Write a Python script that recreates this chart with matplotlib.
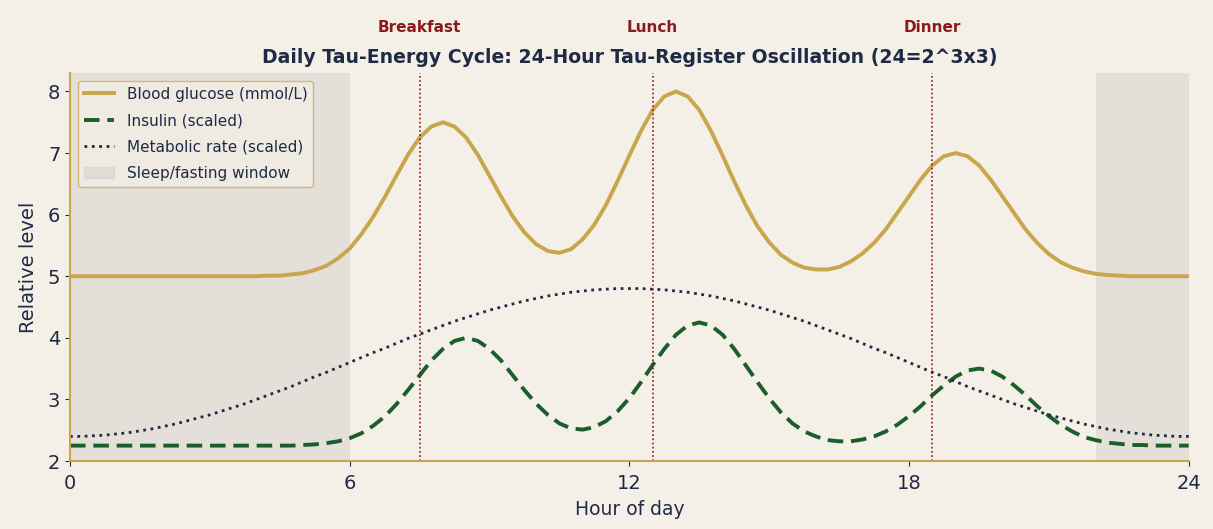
import numpy as np
import matplotlib.pyplot as plt
from matplotlib.patches import Patch
from matplotlib.lines import Line2D

# hours sampled every quarter hour, 0..24
hours = np.arange(0, 24.001, 0.25)

glucose = [5.00] * 17 + [
    5.01, 5.01, 5.03, 5.05, 5.10, 5.17, 5.29, 5.45, 5.68, 5.96,
    6.28, 6.63, 6.97, 7.25, 7.43, 7.50, 7.43, 7.25, 6.97, 6.63,
    6.29, 5.97, 5.71, 5.52, 5.41, 5.38, 5.44, 5.60, 5.84, 6.16,
    6.55, 6.96, 7.36, 7.70, 7.92, 8.00, 7.92, 7.70, 7.36, 6.96,
    6.54, 6.15, 5.81, 5.55, 5.35, 5.22, 5.14, 5.11, 5.11, 5.15,
    5.24, 5.37, 5.54, 5.76, 6.03, 6.30, 6.57, 6.80, 6.95, 7.00,
    6.95, 6.80, 6.57, 6.30, 6.03, 5.76, 5.54, 5.36, 5.23, 5.14,
    5.08, 5.04, 5.02, 5.01, 5.00] + [5.00] * 5

insulin = [2.25] * 19 + [
    2.25, 2.26, 2.27, 2.29, 2.32, 2.37, 2.45, 2.57, 2.72, 2.92,
    3.15, 3.39, 3.63, 3.82, 3.95, 4.00, 3.95, 3.82, 3.63, 3.39,
    3.15, 2.93, 2.75, 2.61, 2.53, 2.51, 2.55, 2.65, 2.81, 3.02,
    3.28, 3.56, 3.82, 4.05, 4.20, 4.25, 4.20, 4.05, 3.82, 3.55,
    3.28, 3.02, 2.79, 2.61, 2.48, 2.40, 2.34, 2.32, 2.32, 2.35,
    2.40, 2.48, 2.59, 2.73, 2.89, 3.07, 3.23, 3.37, 3.47, 3.50,
    3.47, 3.37, 3.23, 3.07, 2.89, 2.73, 2.59, 2.48, 2.39, 2.34,
    2.30, 2.28, 2.26, 2.26, 2.25] + [2.25] * 3

metabolic = [
    2.40, 2.40, 2.41, 2.42, 2.44, 2.46, 2.49, 2.52, 2.56, 2.60,
    2.65, 2.70, 2.75, 2.81, 2.87, 2.93, 3.00, 3.07, 3.14, 3.21,
    3.29, 3.37, 3.44, 3.52, 3.60, 3.68, 3.76, 3.83, 3.91, 3.99,
    4.06, 4.13, 4.20, 4.27, 4.33, 4.39, 4.45, 4.50, 4.55, 4.60,
    4.64, 4.68, 4.71, 4.74, 4.76, 4.78, 4.79, 4.80, 4.80,
    4.80, 4.79, 4.78, 4.76, 4.74, 4.71, 4.68, 4.64, 4.60, 4.55,
    4.50, 4.45, 4.39, 4.33, 4.27, 4.20, 4.13, 4.06, 3.99, 3.91,
    3.83, 3.76, 3.68, 3.60, 3.52, 3.44, 3.37, 3.29, 3.21, 3.14,
    3.07, 3.00, 2.93, 2.87, 2.81, 2.75, 2.70, 2.65, 2.60, 2.56,
    2.52, 2.49, 2.46, 2.44, 2.42, 2.41, 2.40, 2.40]

meal_hours = [7.5, 12.5, 18.5]
meal_names = ['Breakfast', 'Lunch', 'Dinner']
sleep_windows = [(0, 6), (22, 24)]

bg = '#f4f0e8'
gold = '#c9a54c'
green = '#1b5e2a'
navy = '#1f2a44'
red = '#8b1a1a'

fig = plt.figure(figsize=(12.13, 5.29), dpi=100)
fig.patch.set_facecolor(bg)
ax = fig.add_axes([0.0577, 0.1285, 0.9223, 0.7335])
ax.set_facecolor(bg)

for a, b in sleep_windows:
    ax.axvspan(a, b, color='#c8c4bf', alpha=0.35, lw=0)

ax.plot(hours, glucose, color=gold, lw=2.8)
ax.plot(hours, insulin, color=green, lw=2.8, ls=(0, (4, 2)))
ax.plot(hours, metabolic, color=navy, lw=2.0, ls=':')

for h, name in zip(meal_hours, meal_names):
    ax.axvline(h, color=red, lw=1.2, ls=(0, (1, 1.5)))
    ax.text(h, 1.118, name, transform=ax.get_xaxis_transform(),
            ha='center', va='center', color=red, fontsize=11,
            fontweight='bold')

ax.text(0.5, 1.041, 'Daily Tau-Energy Cycle: 24-Hour Tau-Register Oscillation (24=2^3x3)',
        transform=ax.transAxes, ha='center', va='center', color=navy,
        fontsize=13.6, fontweight='bold')

ax.set_xlim(0, 24)
ax.set_ylim(2, 8.3)
ax.set_xticks([0, 6, 12, 18, 24])
ax.set_yticks([2, 3, 4, 5, 6, 7, 8])
ax.tick_params(colors=navy, labelsize=14)
ax.tick_params(axis='x', pad=6)
ax.set_xlabel('Hour of day', color=navy, fontsize=13.5, labelpad=5)
ax.set_ylabel('Relative level', color=navy, fontsize=14, labelpad=7)
for side in ['top', 'right']:
    ax.spines[side].set_visible(False)
for side in ['left', 'bottom']:
    ax.spines[side].set_color(gold)
    ax.spines[side].set_linewidth(1.5)

handles = [Line2D([], [], color=gold, lw=2.8),
           Line2D([], [], color=green, lw=2.8, ls=(0, (4, 2))),
           Line2D([], [], color=navy, lw=2.0, ls=':'),
           Patch(facecolor='#c8c4bf', alpha=0.35, edgecolor='#c8c4bf')]
labels = ['Blood glucose (mmol/L)', 'Insulin (scaled)',
          'Metabolic rate (scaled)', 'Sleep/fasting window']
leg = ax.legend(handles, labels, loc='upper left', fontsize=11,
                facecolor=bg, edgecolor=gold, framealpha=0.7,
                labelcolor=navy, labelspacing=0.75)

fig.savefig('out.png', dpi=100, facecolor=bg)
